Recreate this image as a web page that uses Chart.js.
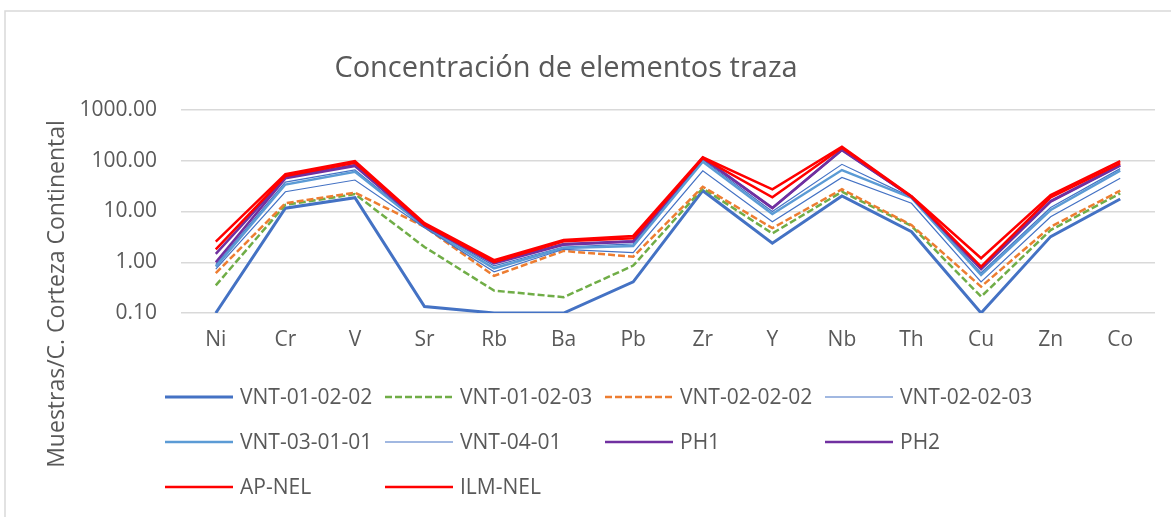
<!DOCTYPE html>
<html>
<head>
<meta charset="utf-8">
<script src="https://cdn.jsdelivr.net/npm/chart.js@4.4.1/dist/chart.umd.min.js"></script>
<style>
  body { margin: 0; background: #fff; }
</style>
</head>
<body>
<canvas id="chart1" width="1171" height="517"></canvas>
<script>
var elements = ["Ni", "Cr", "V", "Sr", "Rb", "Ba", "Pb", "Zr", "Y", "Nb", "Th", "Cu", "Zn", "Co"];
var yTicks = [0.1, 1, 10, 100, 1000];

var vnt010202 = [0.1, 11.6, 18.7, 0.134, 0.1, 0.1, 0.41, 25.7, 2.37, 20.2, 4.0, 0.1, 3.2, 17.6];
var vnt010203 = [0.35, 13.5, 22, 2.0, 0.276, 0.205, 0.86, 28.6, 3.7, 24.5, 5.2, 0.21, 4.3, 22.8];
var vnt020202 = [0.61, 14.5, 23.5, 5.0, 0.54, 1.67, 1.29, 30.8, 4.7, 27.4, 5.4, 0.33, 5.0, 25.7];
var vnt020203 = [0.9, 38, 66, 5.2, 0.85, 2.0, 2.3, 104, 10, 85, 19, 0.62, 12, 70];
var vnt030101 = [0.82, 34, 60.6, 5.0, 0.76, 1.9, 2.1, 96, 8.9, 65.6, 18.5, 0.56, 10.7, 64];
var vnt0401 = [0.73, 24.5, 41.7, 4.8, 0.65, 1.8, 1.55, 63.5, 6.3, 47, 14.5, 0.41, 7.9, 45];
var ph1 = [1.0, 45, 78.7, 5.3, 0.95, 2.2, 2.55, 113, 11.6, 162, 19.5, 0.73, 15.6, 80];
var ph2 = [1.46, 47, 82, 5.4, 0.98, 2.3, 2.6, 115, 11.8, 165, 19.6, 0.75, 16, 82];
var apNel = [1.8, 50, 91, 5.5, 1.0, 2.6, 2.97, 113, 19, 180, 19.6, 0.82, 19, 89];
var ilmNel = [2.55, 54.7, 98.6, 5.9, 1.1, 2.75, 3.3, 117, 27.4, 189, 20, 1.2, 21, 98];

var gray = '#595959';
var fontName = "'Open Sans', sans-serif";

function serie(label, data, color, width, dash, i) {
  return {
    label: label,
    data: data,
    borderColor: color,
    backgroundColor: color,
    borderWidth: width,
    borderDash: dash,
    fill: false,
    tension: 0,
    pointRadius: 0,
    order: 20 - i   // later series on top, like Excel
  };
}

// frame, title, y title and legend drawn on the canvas
var extras = {
  id: 'extras',
  beforeDraw: function(chart) {
    var ctx = chart.ctx;
    ctx.save();
    ctx.strokeStyle = '#D9D9D9';
    ctx.lineWidth = 1.5;
    ctx.strokeRect(5, 11, 1300, 700);
    ctx.restore();
  },
  afterDraw: function(chart) {
    var ctx = chart.ctx;
    ctx.save();
    ctx.fillStyle = gray;

    ctx.font = '29px ' + fontName;
    ctx.textAlign = 'center';
    ctx.textBaseline = 'alphabetic';
    ctx.fillText('Concentración de elementos traza', 566, 77);

    ctx.save();
    ctx.translate(57, 294);
    ctx.rotate(-Math.PI / 2);
    ctx.font = '23px ' + fontName;
    ctx.textBaseline = 'middle';
    ctx.fillText('Muestras/C. Corteza Continental', 0, 0);
    ctx.restore();

    ctx.font = '21px ' + fontName;
    ctx.textAlign = 'left';
    ctx.textBaseline = 'middle';
    chart.data.datasets.forEach(function(ds, i) {
      var x = 165 + (i % 4) * 220;
      var y = 397 + Math.floor(i / 4) * 45;
      ctx.beginPath();
      ctx.setLineDash(ds.borderDash || []);
      ctx.lineWidth = ds.borderWidth;
      ctx.strokeStyle = ds.borderColor;
      ctx.moveTo(x, y);
      ctx.lineTo(x + 68, y);
      ctx.stroke();
      ctx.setLineDash([]);
      ctx.fillText(ds.label, x + 75, y + 1);
    });
    ctx.restore();
  }
};

new Chart("chart1", {
  type: "line",
  data: {
    labels: elements,
    datasets: [
      serie('VNT-01-02-02', vnt010202, '#4472C4', 3, [], 0),
      serie('VNT-01-02-03', vnt010203, '#70AD47', 2.5, [7, 3], 1),
      serie('VNT-02-02-02', vnt020202, '#ED7D31', 2.5, [7, 3], 2),
      serie('VNT-02-02-03', vnt020203, '#4472C4', 1.2, [], 3),
      serie('VNT-03-01-01', vnt030101, '#5B9BD5', 2.5, [], 4),
      serie('VNT-04-01', vnt0401, '#4472C4', 1.2, [], 5),
      serie('PH1', ph1, '#7030A0', 2.5, [], 6),
      serie('PH2', ph2, '#7030A0', 2.5, [], 7),
      serie('AP-NEL', apNel, '#FF0000', 2.5, [], 8),
      serie('ILM-NEL', ilmNel, '#FF0000', 2.5, [], 9)
    ]
  },
  options: {
    responsive: false,
    animation: false,
    layout: {
      padding: { left: 0, right: 16, top: 110, bottom: 164 }
    },
    plugins: {
      legend: { display: false },
      title: { display: false },
      tooltip: { enabled: false }
    },
    scales: {
      x: {
        offset: true,
        grid: { display: false, drawTicks: false },
        border: { display: false },
        ticks: {
          color: gray,
          font: { family: fontName, size: 21 },
          padding: 14,
          maxRotation: 0,
          autoSkip: false
        },
        afterFit: function(scale) { scale.height = 40; }
      },
      y: {
        type: 'logarithmic',
        min: yTicks[0],
        max: yTicks[yTicks.length - 1],
        grid: { color: '#D9D9D9', lineWidth: 1.5, drawTicks: false },
        border: { display: false },
        afterBuildTicks: function(scale) {
          scale.ticks = yTicks.map(function(v) { return { value: v }; });
        },
        ticks: {
          color: gray,
          font: { family: fontName, size: 21 },
          padding: 24,
          callback: function(value) { return Number(value).toFixed(2); }
        },
        afterFit: function(scale) { scale.width = 181; }
      }
    }
  },
  plugins: [extras]
});
</script>
</body>
</html>
